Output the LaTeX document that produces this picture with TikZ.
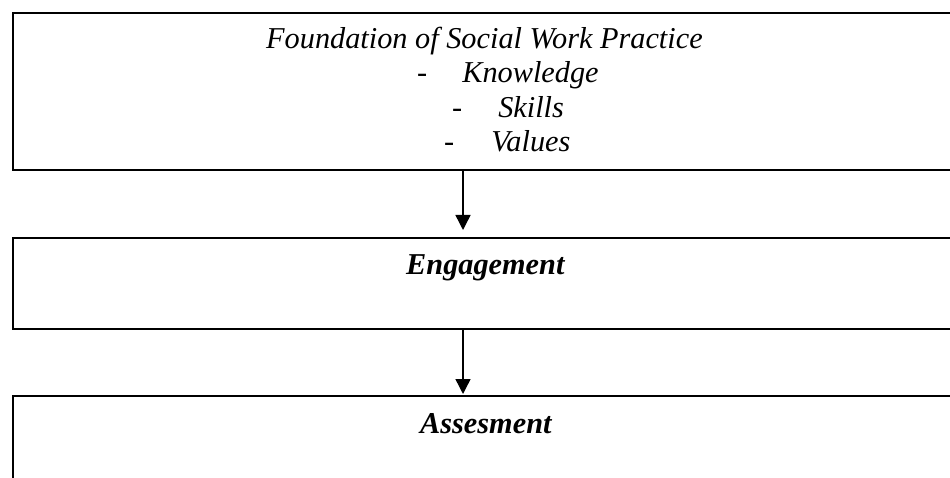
\documentclass[tikz,border=0pt]{standalone}
\usepackage{fontspec}
\setmainfont{Liberation Serif}
\usetikzlibrary{arrows.meta}
\begin{document}
\begin{tikzpicture}[x=1pt,y=-1pt,
  box/.style={draw=black,line width=1.6pt,rectangle,inner sep=0pt,anchor=north west},
  lbl/.style={inner sep=0pt,anchor=base west,font=\fontsize{30.3}{35}\selectfont},
  arr/.style={draw=black,line width=1.4pt,-{Triangle[width=15pt,length=15pt]}}]
\useasboundingbox (0,0) rectangle (950,478);
\fill[white] (0,0) rectangle (950,478);
\node[box,minimum width=963pt,minimum height=157pt] (box1) at (12,12) {};
\node[box,minimum width=963pt,minimum height=91pt] (box2) at (12,237) {};
\node[box,minimum width=963pt,minimum height=110pt] (box3) at (12,395) {};
\node[lbl] (title) at (266,49) {\itshape Foundation of Social Work Practice};
\node[lbl] (k) at (417,83) {-\hspace{35pt}\itshape Knowledge};
\node[lbl] (s) at (452,118) {-\hspace{36pt}\itshape Skills};
\node[lbl] (v) at (444,152) {-\hspace{37pt}\itshape Values};
\node[lbl] (eng) at (406,275) {\bfseries\itshape Engagement};
\node[lbl] (ass) at (420,433) {\bfseries\itshape Assesment};
\coordinate (ax) at (463,0);
\draw[arr,shorten >=7pt] (box1.south -| ax) -- (box2.north -| ax);
\draw[arr,shorten >=1pt] (box2.south -| ax) -- (box3.north -| ax);
\end{tikzpicture}
\end{document}
